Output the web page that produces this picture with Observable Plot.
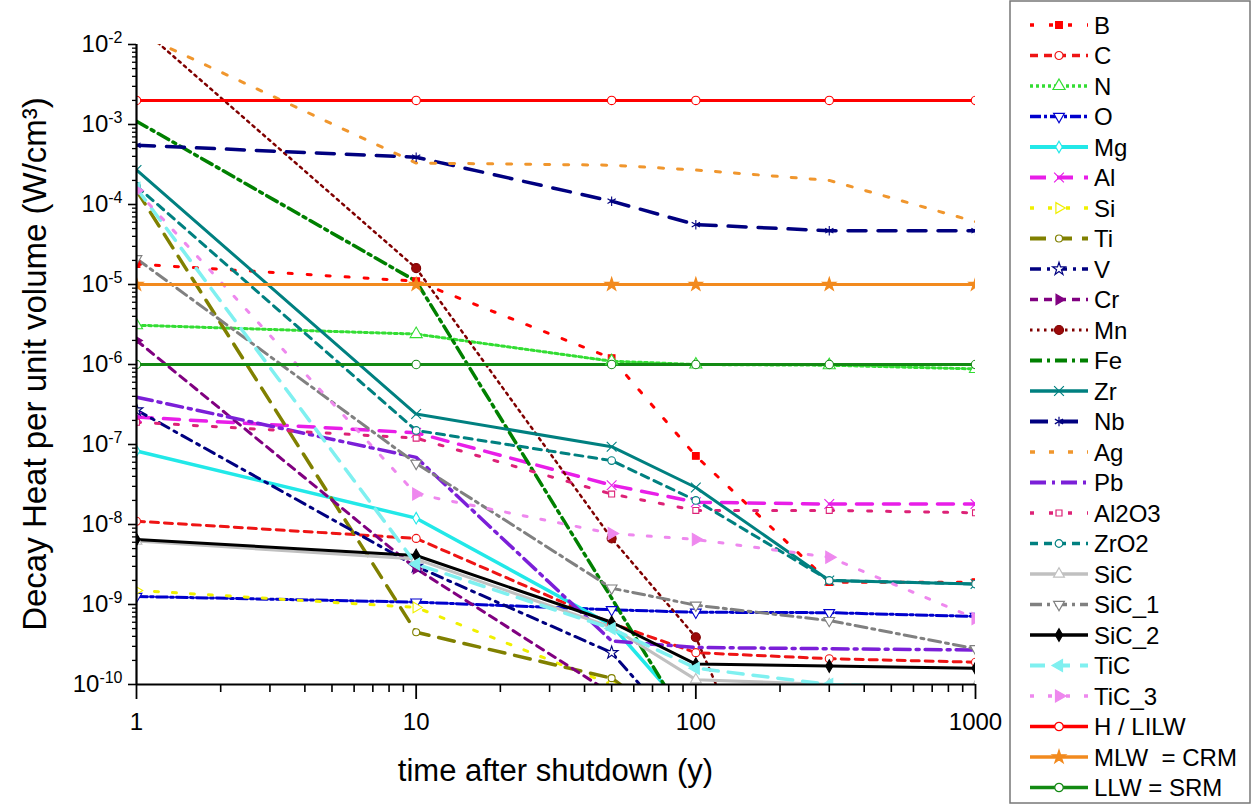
<!DOCTYPE html>
<html><head><meta charset="utf-8">
<script src="https://cdn.jsdelivr.net/npm/d3@7"></script>
<script src="https://cdn.jsdelivr.net/npm/@observablehq/plot@0.6"></script>
<style>
body{margin:0;background:#fff;font-family:Arial,"Liberation Sans",sans-serif;}
#wrap{position:relative;width:1252px;height:805px;overflow:hidden;}
#chart{position:absolute;left:0;top:0;}
#legend{position:absolute;left:1005px;top:0;}
</style></head>
<body><div id="wrap"><div id="chart"></div><svg id="legend" width="247" height="805"></svg></div>
<script>
// ---- data (time after shutdown, years) ----
const times = [1, 10, 50, 100, 300, 1000];
const B     = [1.8e-5, 1.1e-5, 1.2e-6, 7.2e-8, 1.9e-9, 1.9e-9];
const C     = [1.1e-8, 6.7e-9, 5.8e-10, 2.5e-10, 2.1e-10, 1.9e-10];
const N     = [3.1e-6, 2.4e-6, 1.1e-6, 1.0e-6, 9.8e-7, 8.8e-7];
const O     = [1.26e-9, 1.07e-9, 8.6e-10, 8.0e-10, 7.9e-10, 7.1e-10];
const Mg    = [8.3e-8, 1.2e-8, 5.5e-10, 3.5e-11, null, null];
const Al    = [2.2e-7, 1.4e-7, 3.1e-8, 1.9e-8, 1.8e-8, 1.8e-8];
const Si    = [1.5e-9, 9.2e-10, 1.0e-10, 3e-11, null, null];
const Ti    = [1.5e-4, 4.5e-10, 1.2e-10, 2e-11, null, null];
const V     = [2.7e-7, 3.0e-9, 2.5e-10, 1.6e-11, null, null];
const Cr    = [2.0e-6, 2.8e-9, 7.7e-11, 1e-11, null, null];
const Mn    = [1.8e-2, 1.6e-5, 6.7e-9, 3.9e-10, 5e-14, null];
const Fe    = [1.1e-3, 1.1e-5, 1.2e-9, 2.2e-11, null, null];
const Zr    = [2.7e-4, 2.4e-7, 9.4e-8, 2.9e-8, 2.0e-9, 1.8e-9];
const Nb    = [5.5e-4, 3.9e-4, 1.1e-4, 5.6e-5, 4.7e-5, 4.7e-5];
const Ag    = [1.4e-2, 3.3e-4, 3.1e-4, 2.7e-4, 2.0e-4, 6.1e-5];
const Pb    = [3.9e-7, 6.9e-8, 3.5e-10, 2.9e-10, 2.8e-10, 2.7e-10];
const Al2O3 = [1.9e-7, 1.2e-7, 2.4e-8, 1.5e-8, 1.5e-8, 1.4e-8];
const ZrO2  = [1.7e-4, 1.5e-7, 6.3e-8, 2.0e-8, 2.0e-9, 1.8e-9];
const SiC   = [6.2e-9, 3.7e-9, 5.2e-10, 1.15e-10, 1.0e-10, 9.5e-11];
const SiC_1 = [2.1e-5, 5.8e-8, 1.6e-9, 9.8e-10, 6.3e-10, 2.8e-10];
const SiC_2 = [6.5e-9, 4.1e-9, 6.0e-10, 1.8e-10, 1.7e-10, 1.6e-10];
const TiC   = [1.6e-4, 3.2e-9, 5.0e-10, 1.6e-10, 1.0e-10, 9e-11];
const TiC_3 = [1.5e-4, 2.4e-8, 7.7e-9, 6.5e-9, 3.9e-9, 6.7e-10];
const H_LILW  = [2e-3, 2e-3, 2e-3, 2e-3, 2e-3, 2e-3];
const MLW_CRM = [1e-5, 1e-5, 1e-5, 1e-5, 1e-5, 1e-5];
const LLW_SRM = [1e-6, 1e-6, 1e-6, 1e-6, 1e-6, 1e-6];

const seriesNames = ["B","C","N","O","Mg","Al","Si","Ti","V","Cr","Mn","Fe","Zr","Nb","Ag","Pb","Al2O3","ZrO2","SiC","SiC_1","SiC_2","TiC","TiC_3","H / LILW","MLW  = CRM","LLW = SRM"];
const seriesValues = [B,C,N,O,Mg,Al,Si,Ti,V,Cr,Mn,Fe,Zr,Nb,Ag,Pb,Al2O3,ZrO2,SiC,SiC_1,SiC_2,TiC,TiC_3,H_LILW,MLW_CRM,LLW_SRM];

const xMajor = [1, 10, 100, 1000];
const xTickLabels = ["1", "10", "100", "1000"];
const yMajor = [1e-10, 1e-9, 1e-8, 1e-7, 1e-6, 1e-5, 1e-4, 1e-3, 1e-2];
const yTickExponents = ["-10", "-9", "-8", "-7", "-6", "-5", "-4", "-3", "-2"];
const xTitle = "time after shutdown (y)";
const yTitle = "Decay Heat per unit volume (W/cm\u00B3)";

// ---- styles ----
const styles = {
  "B":     {color:"#ff0000", dash:"4,15", w:3, sym:"square", fill:"#ff0000", r:3.8},
  "C":     {color:"#ee1414", dash:"8,6", w:3, sym:"circle", fill:"white", r:4},
  "N":     {color:"#33dd33", dash:"3,3", w:3, sym:"triangle", fill:"white", r:4.5},
  "O":     {color:"#0000cd", dash:"11,3,3,3", w:3, sym:"triangle", rot:180, fill:"white", r:4},
  "Mg":    {color:"#22e8e8", dash:null, w:3.5, sym:"diamond", fill:"white", r:3.5},
  "Al":    {color:"#e81ee8", dash:"16,11", w:3.5, sym:"times", fill:"none", r:4.5},
  "Si":    {color:"#f0f000", dash:"4,14", w:3, sym:"triangle", rot:90, fill:"white", r:4},
  "Ti":    {color:"#808000", dash:"16,10", w:3.5, sym:"circle", fill:"white", r:3.5},
  "V":     {color:"#000080", dash:"11,6,3,6", w:3, sym:"star", fill:"white", r:4},
  "Cr":    {color:"#800080", dash:"8,6", w:3, sym:"triangle", rot:90, fill:"#800080", r:3.8},
  "Mn":    {color:"#800000", dash:"2.5,4.5", w:2.5, sym:"circle", fill:"#9b0a0a", r:4.5},
  "Fe":    {color:"#008000", dash:"12,5,3,5", w:3.5, sym:null},
  "Zr":    {color:"#008080", dash:null, w:3, sym:"times", fill:"none", r:4.5},
  "Nb":    {color:"#000080", dash:"18,12", w:3.5, sym:"asterisk", fill:"none", r:4.5},
  "Ag":    {color:"#f0962d", dash:"5,14", w:3, sym:null},
  "Pb":    {color:"#7b1fd8", dash:"16,6,3,6", w:3.5, sym:null},
  "Al2O3": {color:"#dd2277", dash:"4,15", w:3, sym:"square2", fill:"white", r:3.8},
  "ZrO2":  {color:"#008080", dash:"8,6", w:3, sym:"circle", fill:"white", r:3.8},
  "SiC":   {color:"#c0c0c0", dash:null, w:3, sym:"triangle", fill:"white", r:4},
  "SiC_1": {color:"#808080", dash:"12,5,3,5", w:3, sym:"triangle", rot:180, fill:"white", r:4},
  "SiC_2": {color:"#000000", dash:null, w:3, sym:"diamond", fill:"#000000", r:3.8},
  "TiC":   {color:"#7ff0f0", dash:"15,10", w:3.5, sym:"triangle", rot:-90, fill:"#7ff0f0", r:4.5},
  "TiC_3": {color:"#ee88ee", dash:"4,14", w:3, sym:"triangle", rot:90, fill:"#ee88ee", r:4.5},
  "H / LILW":   {color:"#ff0000", dash:null, w:3, sym:"circle", fill:"white", r:4.2},
  "MLW  = CRM": {color:"#f28a1e", dash:null, w:3, sym:"star", fill:"#f28a1e", r:4.2},
  "LLW = SRM":  {color:"#138a13", dash:null, w:3, sym:"circle", fill:"white", r:4.2}
};

const rows = [];
seriesNames.forEach((name, i) => seriesValues[i].forEach((v, j) => {
  if (v != null) rows.push({name, t: times[j], v});
}));

// minor ticks derived from the major decades
const xMinor = [];
for (let i = 0; i < xMajor.length - 1; i++) for (let k = 2; k <= 9; k++) xMinor.push(xMajor[i] * k);
const yMinor = [];
for (let i = 0; i < yMajor.length - 1; i++) for (let k = 2; k <= 9; k++) yMinor.push(yMajor[i] * k);

const marks = [];
seriesNames.forEach(name => {
  const s = styles[name];
  const data = rows.filter(d => d.name === name);
  const lo = {x: "t", y: "v", stroke: s.color, strokeWidth: s.w, clip: true};
  if (s.dash) lo.strokeDasharray = s.dash;
  marks.push(Plot.line(data, lo));
});
seriesNames.forEach(name => {
  const s = styles[name];
  if (!s.sym) return;
  const data = rows.filter(d => d.name === name);
  marks.push(Plot.dot(data, {x: "t", y: "v", symbol: s.sym, r: s.r, stroke: s.color, strokeWidth: 1.1,
    fill: s.fill, rotate: s.rot || 0, clip: true}));
});

marks.push(
  Plot.axisY(yMinor, {tickSize: 4, tickFormat: () => "", strokeWidth: 1.3, label: null}),
  Plot.axisY(yMajor, {tickSize: 8, tickPadding: 6, strokeWidth: 1.6, fontSize: 24, label: null,
    tickFormat: d => "10^" + yTickExponents[yMajor.indexOf(d)]}),
  Plot.axisX(xMinor, {tickSize: 8, tickFormat: () => "", strokeWidth: 1.6, label: null}),
  Plot.axisX(xMajor, {tickSize: 15, tickPadding: 13, strokeWidth: 1.8, fontSize: 24, label: null,
    tickFormat: d => xTickLabels[xMajor.indexOf(d)]}),
  Plot.ruleX([1], {strokeWidth: 2.2}),
  Plot.ruleY([1e-10], {strokeWidth: 2.2})
);

const chart = Plot.plot({
  width: 1005, height: 805,
  marginLeft: 136, marginRight: 30, marginTop: 44, marginBottom: 121,
  style: {fontFamily: "Arial, 'Liberation Sans', sans-serif", fontSize: "24px", background: "white", color: "black"},
  x: {type: "log", domain: [1, 1000], label: null},
  y: {type: "log", domain: [1e-10, 1e-2], label: null},
  marks
});
document.getElementById("chart").appendChild(chart);

const svg = d3.select(chart);
svg.selectAll('g[aria-label="y-axis tick label"] text').each(function () {
  const s = this.textContent;
  if (!s || s.indexOf("^") < 0) return;
  const [base, exp] = s.split("^");
  const t = d3.select(this);
  t.text(null);
  t.append("tspan").text(base);
  t.append("tspan").attr("dy", "-0.55em").attr("font-size", "16px").text(exp);
});
const xr = chart.scale("x").range, yr = chart.scale("y").range;
svg.append("text").attr("x", (xr[0] + xr[1]) / 2).attr("y", 781).attr("text-anchor", "middle")
  .attr("font-size", 31).attr("fill", "black").text(xTitle);
svg.append("text").attr("transform", `translate(46,${(yr[0] + yr[1]) / 2}) rotate(-90)`).attr("text-anchor", "middle")
  .attr("font-size", 33).attr("fill", "black").text(yTitle);

// ---- legend ----
const lg = d3.select("#legend");
lg.append("rect").attr("x", 5).attr("y", 1).attr("width", 240).attr("height", 802)
  .attr("fill", "white").attr("stroke", "#777").attr("stroke-width", 1.5);
const symMap = {circle: d3.symbolCircle, square: d3.symbolSquare, triangle: d3.symbolTriangle, diamond: d3.symbolDiamond,
  star: d3.symbolStar, times: d3.symbolTimes, asterisk: d3.symbolAsterisk, square2: d3.symbolSquare2};
seriesNames.forEach((name, i) => {
  const s = styles[name];
  const y = 25 + i * 30.5;
  const ln = lg.append("line").attr("x1", 25).attr("x2", 83).attr("y1", y).attr("y2", y)
    .attr("stroke", s.color).attr("stroke-width", s.w + 0.5);
  if (s.dash) ln.attr("stroke-dasharray", s.dash);
  if (s.sym) {
    lg.append("path").attr("d", d3.symbol(symMap[s.sym], Math.PI * s.r * s.r)())
      .attr("transform", `translate(54,${y}) rotate(${s.rot || 0})`)
      .attr("fill", s.fill).attr("stroke", s.color).attr("stroke-width", 1.2);
  }
  lg.append("text").attr("x", 89).attr("y", y).attr("dy", "0.36em").attr("font-size", 24)
    .style("white-space", "pre").attr("fill", "black").text(name);
});
</script>
</body></html>
